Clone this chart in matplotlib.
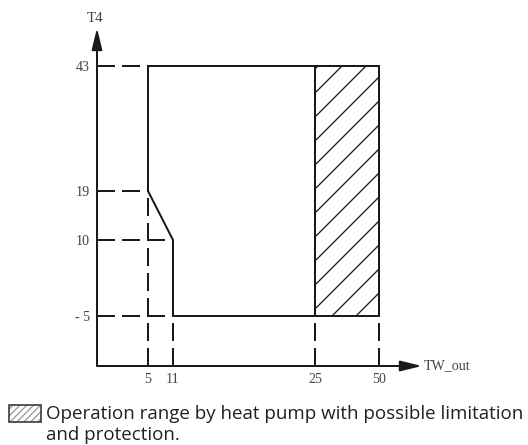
import numpy as np
import matplotlib.pyplot as plt
from matplotlib.patches import Rectangle

# 数据
x_ticks = [5, 11, 25, 50]
x_labels = ['5', '11', '25', '50']
y_ticks = [-5, 10, 19, 43]
y_labels = ['- 5', '10', '19', '43']

# 运行区域边界 (TW_out, T4)
boundary_x = [5, 5, 50, 50, 11, 11, 5]
boundary_y = [19, 43, 43, -5, -5, 10, 19]

# 热泵限制区域
limit_x = [25, 50]
limit_y = [-5, 43]

legend_lines = ['Operation range by heat pump with possible limitation',
                'and protection.']

# 示意图用的非均匀刻度（数值 -> 像素位置）
x_anchor_val = [0, 5, 11, 25, 50, 60]
x_anchor_pos = [0, 51, 76, 218, 282, 325]
y_anchor_val = [-15, -5, 10, 19, 43, 50]
y_anchor_pos = [0, 50, 126, 175, 300, 338]

line_c = '#1a1a1a'
text_c = '#444444'
W, H = 528, 445

plt.rcParams['hatch.linewidth'] = 0.65

fig = plt.figure(figsize=(W / 144, H / 144), dpi=144)
ax = fig.add_axes([97 / W, 79 / H, 325 / W, 338 / H])

ax.set_xscale('function', functions=(lambda v: np.interp(v, x_anchor_val, x_anchor_pos),
                                     lambda p: np.interp(p, x_anchor_pos, x_anchor_val)))
ax.set_yscale('function', functions=(lambda v: np.interp(v, y_anchor_val, y_anchor_pos),
                                     lambda p: np.interp(p, y_anchor_pos, y_anchor_val)))
ax.set_xlim(x_anchor_val[0], x_anchor_val[-1])
ax.set_ylim(y_anchor_val[0], y_anchor_val[-1])

dash = dict(color=line_c, lw=1.0, dashes=(9, 3.5))
x0, y0 = x_anchor_val[0], y_anchor_val[0]

# 虚线辅助线
ax.plot([x0, boundary_x[0]], [boundary_y[1]] * 2, **dash)
ax.plot([x0, boundary_x[0]], [boundary_y[0]] * 2, **dash)
ax.plot([x0, boundary_x[4]], [boundary_y[5]] * 2, **dash)
ax.plot([x0, boundary_x[4]], [boundary_y[3]] * 2, **dash)
ax.plot([boundary_x[0]] * 2, [y0, boundary_y[0]], **dash)
ax.plot([boundary_x[4]] * 2, [y0, boundary_y[5]], **dash)
for xv in limit_x:
    ax.plot([xv] * 2, [y0, limit_y[0]], **dash)

# 阴影区域
ax.fill_between(limit_x, limit_y[0], limit_y[1], facecolor='none',
                edgecolor=line_c, hatch='//', linewidth=0)
ax.plot([limit_x[0]] * 2, limit_y, color=line_c, lw=1.0)

# 运行范围边界
ax.plot(boundary_x, boundary_y, color=line_c, lw=1.0, solid_joinstyle='miter')

# 坐标轴
for s in ['top', 'right', 'left', 'bottom']:
    ax.spines[s].set_visible(False)
arrow = dict(arrowstyle='-|>,head_length=0.9,head_width=0.22',
             color=line_c, lw=1.0, shrinkA=0, shrinkB=0)
ax.annotate('', xy=(0, 1), xytext=(0, 0), xycoords='axes fraction', arrowprops=arrow)
ax.annotate('', xy=(1, 0), xytext=(0, 0), xycoords='axes fraction', arrowprops=arrow)

ax.set_xticks(x_ticks, x_labels)
ax.set_yticks(y_ticks, y_labels)
ax.minorticks_off()
ax.tick_params(direction='in', length=0, pad=3.5, labelsize=7, labelcolor=text_c)
serif = ['Liberation Serif', 'DejaVu Serif']
for lab in ax.get_xticklabels() + ax.get_yticklabels():
    lab.set_family(serif)

fig.text(95 / W, 1 - 18 / H, 'T4', ha='center', va='center', fontsize=7.5,
         color=text_c, family=serif)
fig.text(424 / W, 1 - 366 / H, 'TW_out', ha='left', va='center', fontsize=7,
         color=text_c, family=serif)

# 图例（图标 + 两行说明）
fig.patches.append(Rectangle((9 / W, 1 - 422 / H), 32 / W, 17 / H, transform=fig.transFigure,
                             facecolor='white', edgecolor='#9a9a9a', hatch='///////',
                             linewidth=0))
fig.patches.append(Rectangle((9 / W, 1 - 422 / H), 32 / W, 17 / H, transform=fig.transFigure,
                             facecolor='none', edgecolor='#333333', linewidth=0.8))
sans = ['Open Sans', 'DejaVu Sans']
t1 = fig.text(46 / W, 1 - 419 / H, legend_lines[0], ha='left', va='baseline',
              fontsize=10, color='#231f20', family=sans)
# 按参考图的行宽调整字号
r = fig.canvas.get_renderer()
fs = 10 * 478 / t1.get_window_extent(r).width
t1.set_fontsize(fs)
fig.text(46 / W, 1 - 440 / H, legend_lines[1], ha='left', va='baseline',
         fontsize=fs, color='#231f20', family=sans)

plt.savefig('out.png', dpi=144)
